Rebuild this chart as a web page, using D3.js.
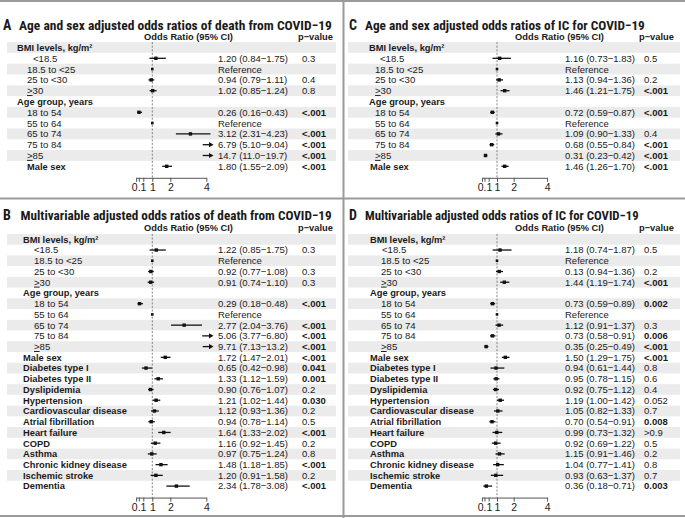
<!DOCTYPE html>
<html><head><meta charset="utf-8">
<script src="https://cdn.jsdelivr.net/npm/d3@7"></script>
<style>
body{margin:0;background:#fff;}
svg text{font-family:"Liberation Sans", Arial, sans-serif; fill:#1a1a1a;}
svg text.title{font-family:"Roboto Condensed", "Liberation Sans", Arial, sans-serif;}
</style></head><body>
<svg id="chart" width="685" height="518"></svg>
<script>
// ---------- DATA ----------
const rowLabelsShort = ["BMI levels, kg/m²","<18.5","18.5 to <25","25 to <30","≥30","Age group, years","18 to 54","55 to 64","65 to 74","75 to 84","≥85","Male sex"];
const rowKindsShort  = ["group","item","item","item","item","group","item","item","item","item","item","main"];
const comorbidLabels = ["Diabetes type I","Diabetes type II","Dyslipidemia","Hypertension","Cardiovascular disease","Atrial fibrillation","Heart failure","COPD","Asthma","Chronic kidney disease","Ischemic stroke","Dementia"];
const rowLabelsFull = rowLabelsShort.concat(comorbidLabels);
const rowKindsFull  = rowKindsShort.concat(comorbidLabels.map(() => "main"));

const titles = {
  A: "Age and sex adjusted odds ratios of death from COVID−19",
  B: "Multivariable adjusted odds ratios of death from COVID−19",
  C: "Age and sex adjusted odds ratios of IC for COVID−19",
  D: "Multivariable adjusted odds ratios of IC for COVID−19"
};
const headerOR = "Odds Ratio (95% CI)";
const headerP = "p−value";
const referenceText = "Reference";

// Panel A: age & sex adjusted, death
const estA  = [null,1.20,1,0.94,1.02,null,0.26,1,3.12,6.79,14.7,1.80];
const lowA  = [null,0.84,null,0.79,0.85,null,0.16,null,2.31,5.10,11.0,1.55];
const highA = [null,1.75,null,1.11,1.24,null,0.43,null,4.23,9.04,19.7,2.09];
const pA    = ["","0.3","","0.4","0.8","","<.001","","<.001","<.001","<.001","<.001"];

// Panel B: multivariable, death
const estB  = [null,1.22,1,0.92,0.91,null,0.29,1,2.77,5.06,9.71,1.72,0.65,1.33,0.90,1.21,1.12,0.94,1.64,1.16,0.97,1.48,1.20,2.34];
const lowB  = [null,0.85,null,0.77,0.74,null,0.18,null,2.04,3.77,7.13,1.47,0.42,1.12,0.76,1.02,0.93,0.78,1.33,0.92,0.75,1.18,0.91,1.78];
const highB = [null,1.75,null,1.08,1.10,null,0.48,null,3.76,6.80,13.2,2.01,0.98,1.59,1.07,1.44,1.36,1.14,2.02,1.45,1.24,1.85,1.58,3.08];
const pB    = ["","0.3","","0.3","0.3","","<.001","","<.001","<.001","<.001","<.001","0.041","0.001","0.2","0.030","0.2","0.5","<.001","0.2","0.8","<.001","0.2","<.001"];

// Panel C: age & sex adjusted, IC
const estC  = [null,1.16,1,1.13,1.46,null,0.72,1,1.09,0.68,0.31,1.46];
const lowC  = [null,0.73,null,0.94,1.21,null,0.59,null,0.90,0.55,0.23,1.26];
const highC = [null,1.83,null,1.36,1.75,null,0.87,null,1.33,0.84,0.42,1.70];
const pC    = ["","0.5","","0.2","<.001","","<.001","","0.4","<.001","<.001","<.001"];

// Panel D: multivariable, IC
const estD  = [null,1.18,1,1.13,1.44,null,0.73,1,1.12,0.73,0.35,1.50,0.94,0.95,0.92,1.19,1.05,0.70,0.99,0.92,1.15,1.04,0.93,0.36];
const lowD  = [null,0.74,null,0.94,1.19,null,0.59,null,0.91,0.58,0.25,1.29,0.61,0.78,0.75,1.00,0.82,0.54,0.73,0.69,0.91,0.77,0.63,0.18];
const highD = [null,1.87,null,1.36,1.74,null,0.89,null,1.37,0.91,0.49,1.75,1.44,1.15,1.12,1.42,1.33,0.91,1.32,1.22,1.46,1.41,1.37,0.71];
const pD    = ["","0.5","","0.2","<.001","","0.002","","0.3","0.006","<.001","<.001","0.8","0.6","0.4","0.052","0.7","0.008",">0.9","0.5","0.2","0.8","0.7","0.003"];
const estTextOverrideD = {3: "0.13 (0.94−1.36)"}; // as printed in the source figure

const tickValues = [0.1, 0.25, 0.5, 1, 2, 4];
const tickLabels = ["0.1", "", "", "1", "2", "4"];
const clipMax = 4.4;

// ---------- LAYOUT ----------
const svg = d3.select("#chart");
const fmt = v => v >= 10 ? v.toFixed(1) : v.toFixed(2);

// frame lines
svg.append("line").attr("x1",0).attr("x2",685).attr("y1",1).attr("y2",1).attr("stroke","#9a9a9a").attr("stroke-width",2);
svg.append("line").attr("x1",0).attr("x2",685).attr("y1",198.5).attr("y2",198.5).attr("stroke","#9a9a9a").attr("stroke-width",2);
svg.append("line").attr("x1",0).attr("x2",685).attr("y1",516).attr("y2",516).attr("stroke","#9a9a9a").attr("stroke-width",2);
svg.append("line").attr("x1",343.5).attr("x2",343.5).attr("y1",0).attr("y2",518).attr("stroke","#9a9a9a").attr("stroke-width",2);

const panels = [
  {key:"A", labels:rowLabelsShort, kinds:rowKindsShort, est:estA, low:lowA, high:highA, p:pA, ov:{},
   letterX:3, titleX:19, titleW:313, titleY:29.5, headerY:39.5, row0:47.5, step:10.8,
   x1:152.3, slope:18, groupX:17, itemX:27, ltX:33, mainX:27, estX:218, pX:302, orC:188.5, pHX:298, bx0:7, bx1:336},
  {key:"B", labels:rowLabelsFull, kinds:rowKindsFull, est:estB, low:lowB, high:highB, p:pB, ov:{},
   letterX:3, titleX:20.5, titleW:311.5, titleY:220.2, headerY:230.5, row0:239.3, step:10.73,
   x1:152.3, slope:18, groupX:23, itemX:34, ltX:34, mainX:23, estX:218, pX:302, orC:188.5, pHX:298, bx0:7, bx1:336},
  {key:"C", labels:rowLabelsShort, kinds:rowKindsShort, est:estC, low:lowC, high:highC, p:pC, ov:{},
   letterX:349, titleX:365, titleW:280, titleY:29.5, headerY:39.5, row0:47.5, step:10.8,
   x1:497, slope:16.7, groupX:369, itemX:375, ltX:380, mainX:370, estX:565, pX:644, orC:559.5, pHX:639, bx0:348, bx1:680},
  {key:"D", labels:rowLabelsFull, kinds:rowKindsFull, est:estD, low:lowD, high:highD, p:pD, ov:estTextOverrideD,
   letterX:349, titleX:365, titleW:274, titleY:220.2, headerY:230.5, row0:239.3, step:10.73,
   x1:497, slope:16.7, groupX:370, itemX:381, ltX:382, mainX:370, estX:565, pX:644, orC:559.5, pHX:639, bx0:348, bx1:680}
];

panels.forEach(c => {
  const g = svg.append("g");
  const n = c.labels.length;
  const x = d3.scaleLinear().domain([1, 2]).range([c.x1, c.x1 + c.slope]);
  const y = d3.scaleLinear().domain([0, n - 1]).range([c.row0, c.row0 + (n - 1) * c.step]);

  // stripes
  g.selectAll("rect.band").data(d3.range(n).filter(i => i % 2 === 0)).join("rect")
    .attr("x", c.bx0).attr("width", c.bx1 - c.bx0)
    .attr("y", i => y(i) - c.step / 2).attr("height", c.step)
    .attr("fill", "#ebebeb");

  // title (font size fitted to the measured width)
  g.append("text").attr("class", "title").attr("x", c.letterX).attr("y", c.titleY)
    .attr("font-size", 14).attr("font-weight", 700).text(c.key);
  const tt = g.append("text").attr("class", "title").attr("x", c.titleX).attr("y", c.titleY)
    .attr("font-size", 14).attr("font-weight", 700).text(titles[c.key]);
  const w0 = tt.node().getComputedTextLength();
  tt.attr("font-size", Math.min(14.5, 14 * c.titleW / w0));

  // headers
  g.append("text").attr("x", c.orC).attr("y", c.headerY).attr("text-anchor", "middle")
    .attr("font-size", 9.3).attr("font-weight", 700).text(headerOR);
  g.append("text").attr("x", c.pHX).attr("y", c.headerY)
    .attr("font-size", 9.3).attr("font-weight", 700).text(headerP);

  // row labels
  c.labels.forEach((lab, i) => {
    const kind = c.kinds[i];
    const xx = kind === "group" ? c.groupX : kind === "main" ? c.mainX : (lab === "<18.5" ? c.ltX : c.itemX);
    const t = g.append("text").attr("x", xx).attr("y", y(i) + 3.4)
      .attr("font-size", kind === "item" ? 9.6 : 9.3)
      .attr("font-weight", kind === "item" ? 400 : 700);
    if (lab.startsWith("≥")) {
      t.append("tspan").style("text-decoration", "underline").text(">");
      t.append("tspan").text(lab.slice(1));
    } else {
      t.text(lab);
    }
  });

  // reference line
  const axisY = y(n - 1) + 11.5;
  g.append("line").attr("x1", x(1)).attr("x2", x(1))
    .attr("y1", y(0) - c.step / 2).attr("y2", axisY)
    .attr("stroke", "#666").attr("stroke-width", 0.8).attr("stroke-dasharray", "2,1.6");

  // CI lines, points, arrows
  c.est.forEach((e, i) => {
    if (e === null) return;
    const yy = y(i);
    if (c.low[i] === null) {
      g.append("rect").attr("x", x(e) - 1.3).attr("y", yy - 1.3).attr("width", 2.6).attr("height", 2.6).attr("fill", "#111");
      g.append("text").attr("x", c.estX).attr("y", yy + 3.4).attr("font-size", 9.5).text(referenceText);
      return;
    }
    const lo = c.low[i], hi = c.high[i];
    const over = hi > clipMax;
    const xs = x(Math.min(lo, 3.8));
    const xe = over ? x(clipMax) - 3 : x(hi);
    g.append("line").attr("x1", xs).attr("x2", xe).attr("y1", yy).attr("y2", yy)
      .attr("stroke", "#111").attr("stroke-width", 1.3);
    if (over) {
      const tip = x(clipMax);
      g.append("path").attr("d", `M${tip},${yy} L${tip - 4.5},${yy - 2.6} L${tip - 4.5},${yy + 2.6} Z`).attr("fill", "#111");
    }
    if (e <= clipMax) {
      g.append("rect").attr("x", x(e) - 1.7).attr("y", yy - 1.7).attr("width", 3.4).attr("height", 3.4).attr("fill", "#111");
    }
    const txt = c.ov[i] !== undefined ? c.ov[i] : `${fmt(e)} (${fmt(lo)}−${fmt(hi)})`;
    g.append("text").attr("x", c.estX).attr("y", yy + 3.4).attr("font-size", 9.5).text(txt);
  });

  // p-values
  c.p.forEach((p, i) => {
    if (!p) return;
    const bold = p.startsWith("<") || parseFloat(p) < 0.05;
    g.append("text").attr("x", c.pX).attr("y", y(i) + 3.4).attr("font-size", 9.5)
      .attr("font-weight", bold ? 700 : 400).text(p);
  });

  // axis
  const xa = x.copy().domain([0.1, 4]).range([x(0.1), x(4)]);
  const axis = d3.axisBottom(xa).tickValues(tickValues).tickSize(4).tickSizeOuter(0)
    .tickPadding(2).tickFormat((d, k) => tickLabels[k]);
  const ag = g.append("g").attr("transform", `translate(0,${axisY})`).call(axis);
  ag.select(".domain").attr("stroke", "#555");
  ag.selectAll(".tick line").attr("stroke", "#555");
  ag.selectAll(".tick text").attr("font-size", 10.5).attr("fill", "#333")
    .style("font-family", "'Liberation Sans', Arial, sans-serif")
    .attr("dx", (d) => d === 0.1 ? 2.5 : 0);
});
</script>
</body></html>
